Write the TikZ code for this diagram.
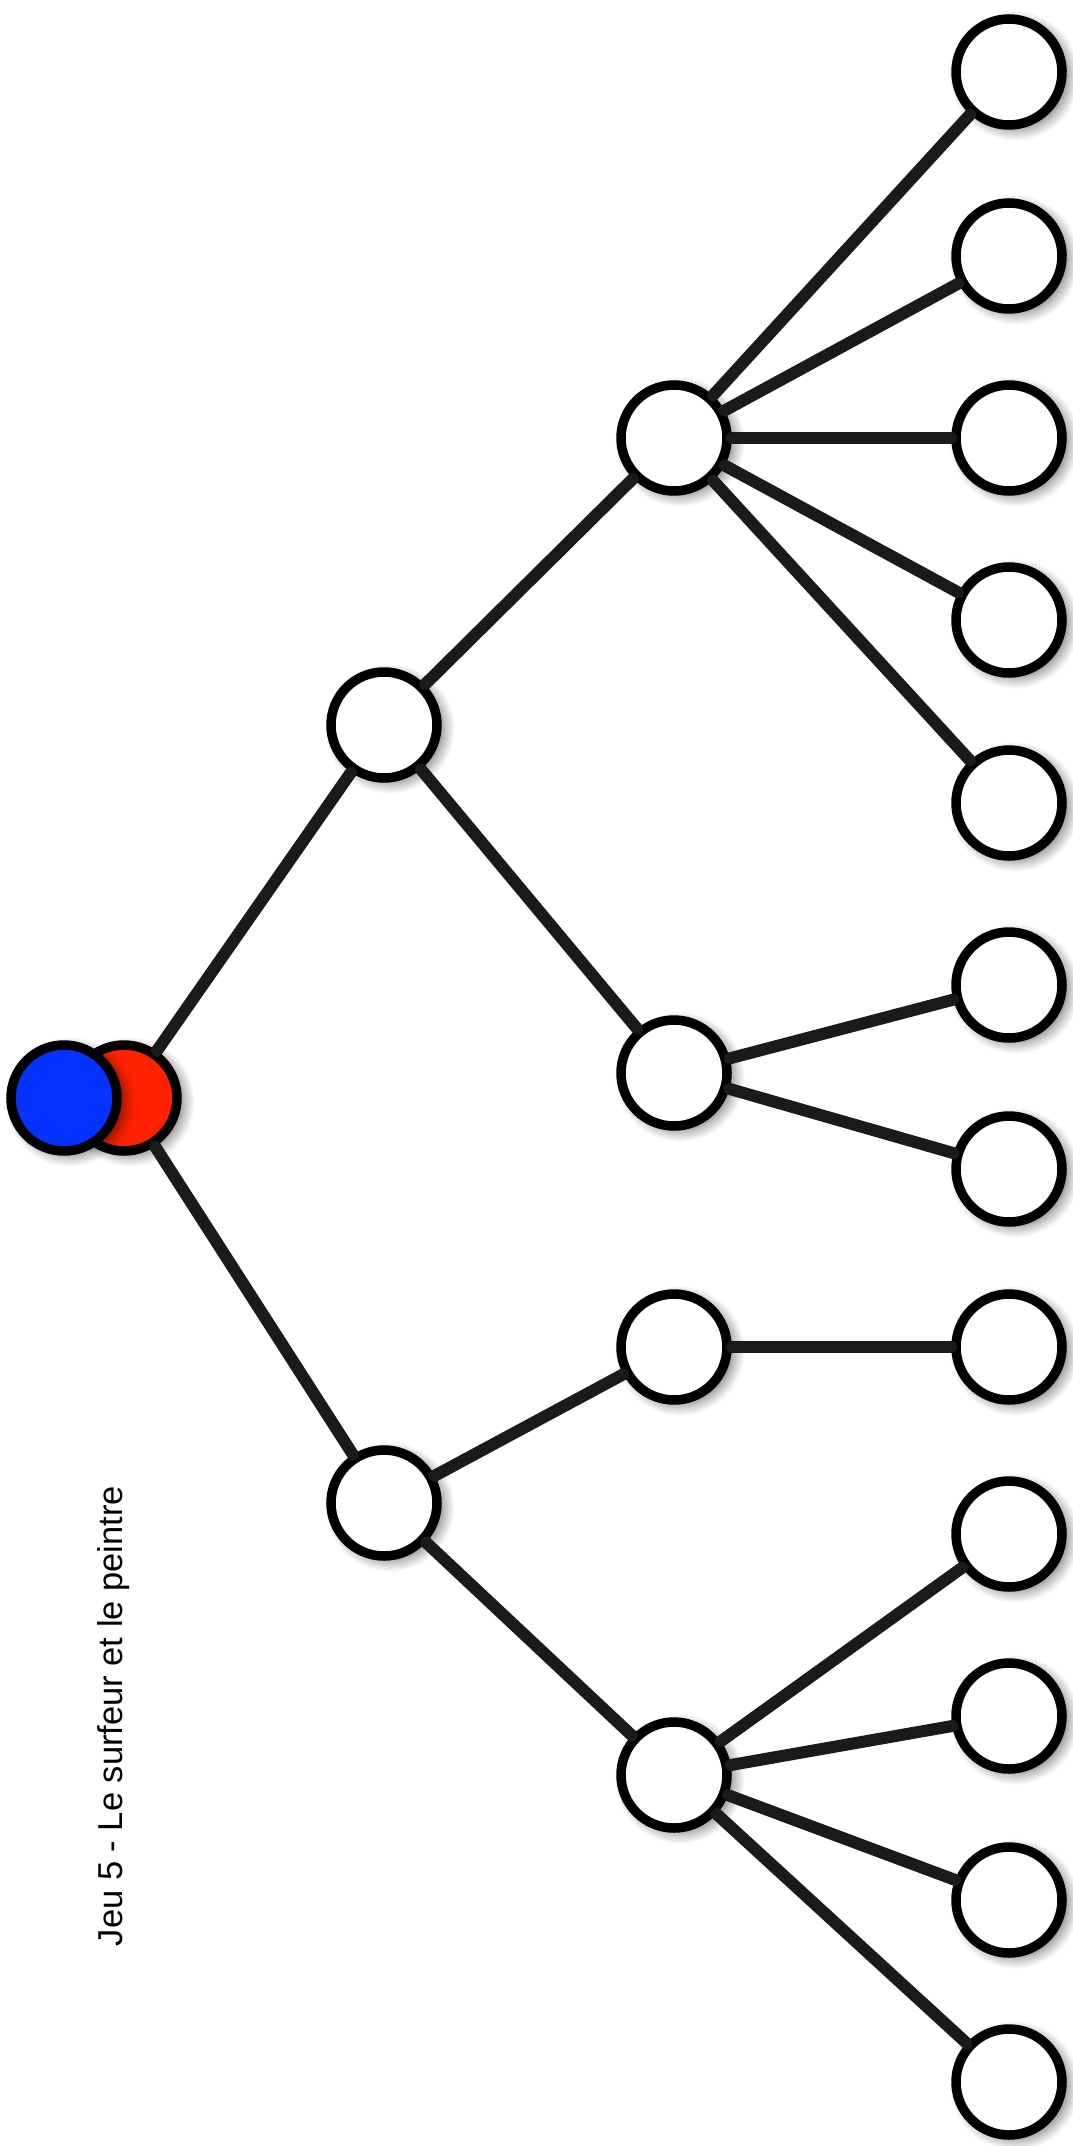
\documentclass[tikz,border=0pt]{standalone}
\usepackage{fontspec}
\setmainfont{Liberation Sans}
\usetikzlibrary{shadows.blur}
\definecolor{edgecol}{HTML}{1A1A1A}
\definecolor{bluecol}{RGB}{5,50,255}
\definecolor{redcol}{RGB}{255,34,0}
\begin{document}
\begin{tikzpicture}[x=1pt,y=-1pt,
  dot/.style={circle, draw=black, line width=9.5pt, fill=white, minimum size=106pt, inner sep=0pt,
    blur shadow={shadow xshift=6pt, shadow yshift=-4pt, shadow blur radius=12pt, shadow blur steps=12, shadow opacity=60}},
  link/.style={draw=edgecol, line width=12pt, line cap=round}]
\useasboundingbox (0,0) rectangle (1073,2146);
% root
\node[dot, fill=redcol] (r) at (124,1098) {};
\node[dot, fill=bluecol] (b) at (64,1098) {};
% level 1
\node[dot] (A) at (384,725) {};
\node[dot] (B) at (384,1503) {};
% level 2
\node[dot] (A1) at (674,438) {};
\node[dot] (A2) at (674,1073) {};
\node[dot] (B1) at (674,1347) {};
\node[dot] (B2) at (674,1775) {};
% leaves
\node[dot] (L0) at (1009,72) {};
\node[dot] (L1) at (1009,256) {};
\node[dot] (L2) at (1009,438) {};
\node[dot] (L3) at (1009,620) {};
\node[dot] (L4) at (1009,803) {};
\node[dot] (L5) at (1009,985) {};
\node[dot] (L6) at (1009,1169) {};
\node[dot] (L7) at (1009,1347) {};
\node[dot] (L8) at (1009,1534) {};
\node[dot] (L9) at (1009,1716) {};
\node[dot] (L10) at (1009,1900) {};
\node[dot] (L11) at (1009,2082) {};
% connectors
\draw[link] (r) -- (A);
\draw[link] (r) -- (B);
\draw[link] (A) -- (A1);
\draw[link] (A) -- (A2);
\draw[link] (B) -- (B1);
\draw[link] (B) -- (B2);
\foreach \i in {0,...,4} {\draw[link] (A1) -- (L\i);}
\foreach \i in {5,6} {\draw[link] (A2) -- (L\i);}
\draw[link] (B1) -- (L7);
\foreach \i in {8,...,11} {\draw[link] (B2) -- (L\i);}
% title
\node[rotate=90, anchor=base, inner sep=0pt, font=\fontsize{34.5}{40}\selectfont] (title) at (122,1716) {Jeu 5 - Le surfeur et le peintre};
\end{tikzpicture}
\end{document}
